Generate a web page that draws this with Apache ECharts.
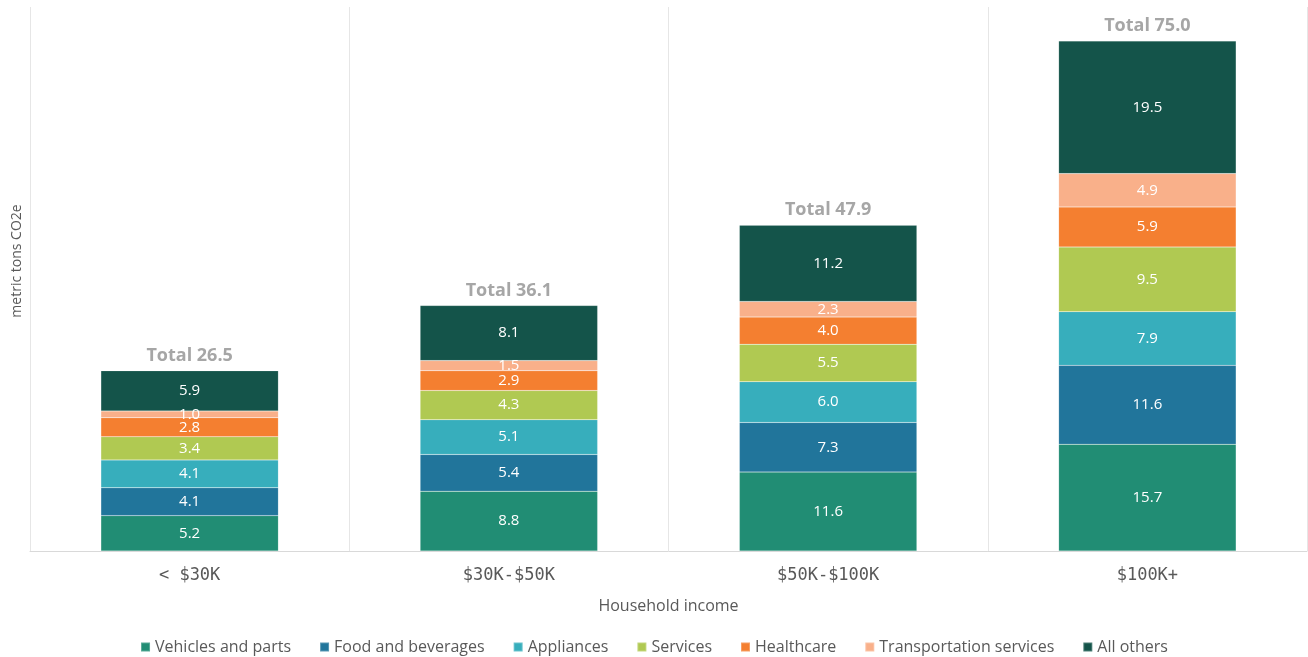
<!DOCTYPE html>
<html>
<head>
<meta charset="utf-8">
<script src="https://cdn.jsdelivr.net/npm/echarts@6/dist/echarts.min.js"></script>
<style>html,body{margin:0;padding:0;background:#fff;}#c{width:1308px;height:657px;}</style>
</head>
<body>
<div id="c"></div>
<script>
const categories = ['< $30K', '$30K-$50K', '$50K-$100K', '$100K+'];
const seriesNames = ['Vehicles and parts', 'Food and beverages', 'Appliances', 'Services', 'Healthcare', 'Transportation services', 'All others'];
const vehicles = [5.2, 8.8, 11.6, 15.7];
const food = [4.1, 5.4, 7.3, 11.6];
const appliances = [4.1, 5.1, 6.0, 7.9];
const services = [3.4, 4.3, 5.5, 9.5];
const healthcare = [2.8, 2.9, 4.0, 5.9];
const transport = [1.0, 1.5, 2.3, 4.9];
const others = [5.9, 8.1, 11.2, 19.5];
const totals = [26.5, 36.1, 47.9, 75.0];
const colors = ['#218D74', '#21759B', '#37AEBC', '#B0C952', '#F47F30', '#F9B08A', '#14544A'];
const values = [vehicles, food, appliances, services, healthcare, transport, others];

const font = 'Open Sans';
const series = values.map((v, i) => ({
  name: seriesNames[i],
  type: 'bar',
  stack: 'total',
  barWidth: '55.6%',
  data: v,
  itemStyle: { color: colors[i], borderColor: 'rgba(255,255,255,0.25)', borderWidth: 0.5 },
  label: {
    show: true, position: 'inside', color: '#ffffff', fontFamily: font, fontSize: 15,
    formatter: p => p.value.toFixed(1)
  }
}));
series.push({
  name: 'Total',
  type: 'bar',
  stack: 'total',
  barWidth: '55.6%',
  data: totals.map(() => 0),
  itemStyle: { color: 'transparent' },
  label: {
    show: true, position: 'top', distance: 6, color: '#A6A6A6', fontFamily: font,
    fontSize: 18, fontWeight: 'bold',
    formatter: p => 'Total ' + totals[p.dataIndex].toFixed(1)
  },
  tooltip: { show: false }
});

const chart = echarts.init(document.getElementById('c'));
chart.setOption({
  animation: false,
  color: colors,
  grid: { left: 30, right: 1, top: 7, bottom: 106, containLabel: false },
  legend: {
    data: seriesNames,
    bottom: 2,
    left: 'center',
    padding: 0,
    icon: 'rect',
    itemWidth: 9,
    itemHeight: 9,
    itemGap: 28,
    textStyle: { color: '#595959', fontFamily: font, fontSize: 16 }
  },
  xAxis: {
    type: 'category',
    data: categories,
    name: 'Household income',
    nameLocation: 'middle',
    nameGap: 47,
    nameTextStyle: { color: '#595959', fontFamily: font, fontSize: 16 },
    axisLine: { show: true, lineStyle: { color: '#D9D9D9' } },
    axisTick: { show: false },
    axisLabel: { color: '#595959', fontFamily: 'DejaVu Sans Mono', fontSize: 17, margin: 16 },
    splitLine: { show: true, lineStyle: { color: '#E6E6E6', width: 1 } }
  },
  yAxis: {
    type: 'value',
    min: 0,
    max: 80,
    axisLine: { show: false },
    axisTick: { show: false },
    axisLabel: { show: false },
    splitLine: { show: false }
  },
  graphic: [{
    type: 'text',
    x: 17,
    y: 261,
    rotation: Math.PI / 2,
    style: {
      text: 'metric tons CO2e',
      fill: '#595959',
      font: '14px "Open Sans"',
      align: 'center',
      verticalAlign: 'middle'
    }
  }],
  series: series
});
</script>
</body>
</html>
